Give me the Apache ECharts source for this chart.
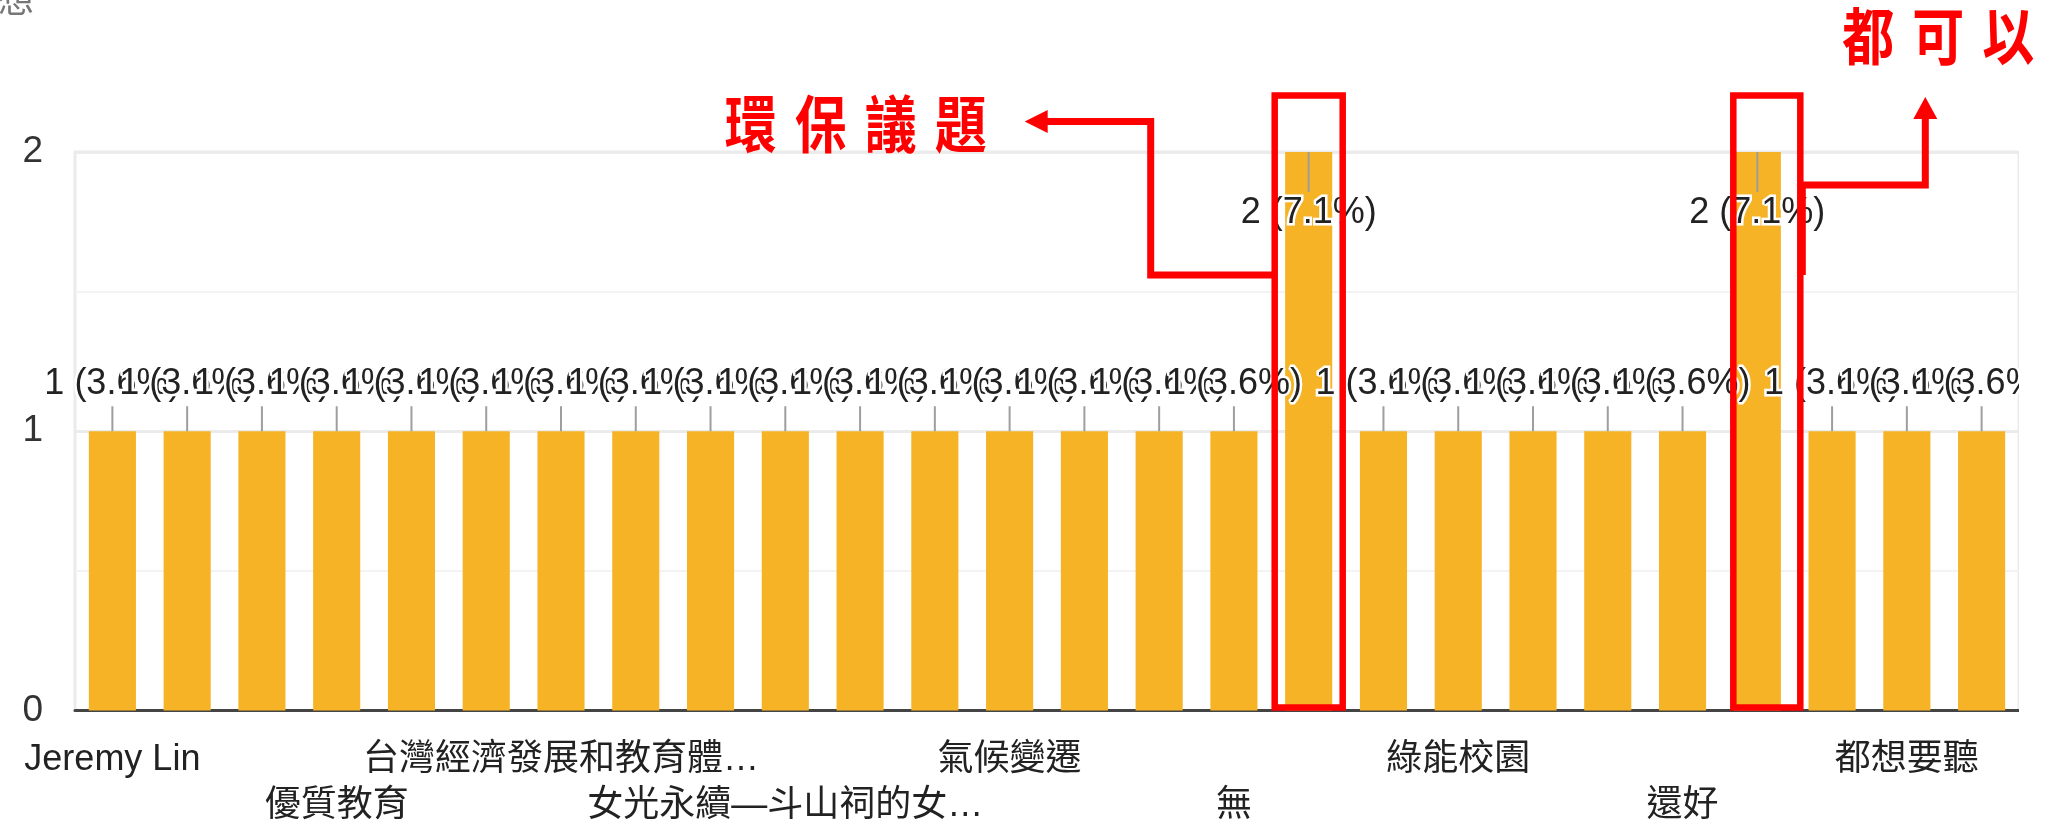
<!DOCTYPE html>
<html><head><meta charset="utf-8">
<script src="https://cdn.jsdelivr.net/npm/echarts@6/dist/echarts.min.js"></script>
<style>
html,body{margin:0;padding:0;background:#fff;width:2052px;height:824px;overflow:hidden}
#chart{position:absolute;left:0;top:0;width:2019px;height:824px}
#overlay{position:absolute;left:0;top:0;width:2052px;height:824px;pointer-events:none}
</style></head><body>
<div id="chart"></div><div id="overlay"></div>
<script>
// ---- data ----
const categories = [
  'Jeremy Lin', '', '', '優質教育', '', '', '台灣經濟發展和教育體…', '', '',
  '女光永續—斗山祠的女…', '', '', '氣候變遷', '', '', '無', '環保議題', '',
  '綠能校園', '', '', '還好', '都可以', '', '都想要聽', ''
];
const values = [1,1,1,1,1,1,1,1,1,1,1,1,1,1,1,1,2,1,1,1,1,1,2,1,1,1];
const yTicks = [0, 1, 2];
const annotatedCategories = ['環保議題', '都可以'];
const titleFragment = '想';

// ---- derived ----
const total = values.reduce((a, b) => a + b, 0);
const yMin = yTicks[0], yMax = yTicks[yTicks.length - 1];
const labelText = v => v + ' (' + (v / total * 100).toFixed(1) + '%)';
const latin = '"Liberation Sans", Arial, "Noto Sans CJK TC", sans-serif';
const cjk = '"Noto Sans CJK TC", "Liberation Sans", sans-serif';

const chart = echarts.init(document.getElementById('chart'), null, {renderer: 'canvas'});
chart.setOption({
  animation: false,
  backgroundColor: '#fff',
  grid: {left: 75, right: 0, top: 152, bottom: 113.5, show: true, borderColor: '#ebebeb', borderWidth: 3,
         containLabel: false, outerBoundsMode: 'none'},
  xAxis: {
    type: 'category',
    data: categories,
    axisTick: {show: false},
    axisLine: {show: true, lineStyle: {color: '#444', width: 3}},
    axisLabel: {
      interval: 2, margin: 27, fontSize: 36, lineHeight: 46, color: '#222',
      fontFamily: latin,
      formatter: (val, idx) => (Math.round(idx / 3) % 2 === 1 ? '\n' + val : val)
    },
    splitLine: {show: false}
  },
  yAxis: {
    type: 'value', min: yMin, max: yMax, interval: 1,
    axisLine: {show: false}, axisTick: {show: false},
    axisLabel: {margin: 32, fontSize: 37, color: '#333', fontFamily: latin},
    splitLine: {show: true, lineStyle: {color: '#ebebeb', width: 3}},
    minorTick: {show: false, splitNumber: 2},
    minorSplitLine: {show: true, lineStyle: {color: '#f3f3f3', width: 2}}
  },
  series: [
    {
      type: 'bar', data: values, barWidth: '63%',
      itemStyle: {color: '#F5B325'}, z: 2
    },
    {
      type: 'custom', z: 5,
      data: values.map((v, i) => [i, v]),
      renderItem(params, api) {
        const i = api.value(0), v = api.value(1);
        const p = api.coord([i, v]);
        const inside = v >= yMax;
        const dir = inside ? 1 : -1;
        const lineLen = inside ? 40 : 25;
        const textOff = inside ? 61 : 47;
        return {
          type: 'group',
          children: [
            {type: 'line', shape: {x1: p[0], y1: p[1], x2: p[0], y2: p[1] + dir * lineLen},
             style: {stroke: '#9e9e9e', lineWidth: 2}},
            {type: 'text', x: p[0], y: p[1] + dir * textOff,
             style: {text: labelText(v), align: 'center', verticalAlign: 'middle',
                     fill: '#222', stroke: '#fff', lineWidth: 5,
                     font: '36px ' + latin}}
          ]
        };
      }
    }
  ]
});

// ---- overlay annotations (positions from the chart's own scales) ----
const topY = chart.convertToPixel({yAxisIndex: 0}, yMax);
const baseY = chart.convertToPixel({yAxisIndex: 0}, yMin);
const annStyles = [
  {box: [-34, 34], path: [[-34, 123], [-158, 123], [-158, -30.5], [-262, -30.5]],
   head: {tip: [-284, -30.5], dir: 'left'}, text: {x: -558, y: -27.5}},
  {box: [-24, 43], path: [[45, 123], [45, 33], [168, 33], [168, -34]],
   head: {tip: [168, -55], dir: 'up'}, text: {x: 111, y: -116}}
];
const red = '#ff0000';
const g = [];
annotatedCategories.forEach((name, k) => {
  const idx = categories.indexOf(name);
  const cx = chart.convertToPixel({xAxisIndex: 0}, idx);
  const s = annStyles[k];
  const boxTop = topY - 56.5, boxBot = baseY - 3;
  g.push({type: 'rect', z: 100,
    shape: {x: cx + s.box[0], y: boxTop, width: s.box[1] - s.box[0], height: boxBot - boxTop},
    style: {fill: null, stroke: red, lineWidth: 6.5}});
  g.push({type: 'polyline', z: 100,
    shape: {points: s.path.map(q => [cx + q[0], topY + q[1]])},
    style: {fill: null, stroke: red, lineWidth: 7, lineJoin: 'miter', lineCap: 'butt'}});
  const tx = cx + s.head.tip[0], ty = topY + s.head.tip[1];
  const pts = s.head.dir === 'left'
    ? [[tx, ty], [tx + 23, ty - 11.5], [tx + 23, ty + 11.5]]
    : [[tx, ty], [tx - 12, ty + 22], [tx + 12, ty + 22]];
  g.push({type: 'polygon', z: 100, shape: {points: pts}, style: {fill: red}});
  Array.from(name).forEach((ch, j) => {
    g.push({type: 'text', z: 100, x: cx + s.text.x + j * 70, y: topY + s.text.y,
      scaleX: 1, scaleY: 1.2,
      style: {text: ch, align: 'center', verticalAlign: 'middle', fill: red,
              font: 'bold 52px ' + cjk}});
  });
});
g.push({type: 'text', x: -2, y: -19, style: {text: titleFragment, fill: '#777', font: '36px ' + cjk}});

const overlay = echarts.init(document.getElementById('overlay'), null, {renderer: 'canvas'});
overlay.setOption({animation: false, graphic: g});
</script>
</body></html>
